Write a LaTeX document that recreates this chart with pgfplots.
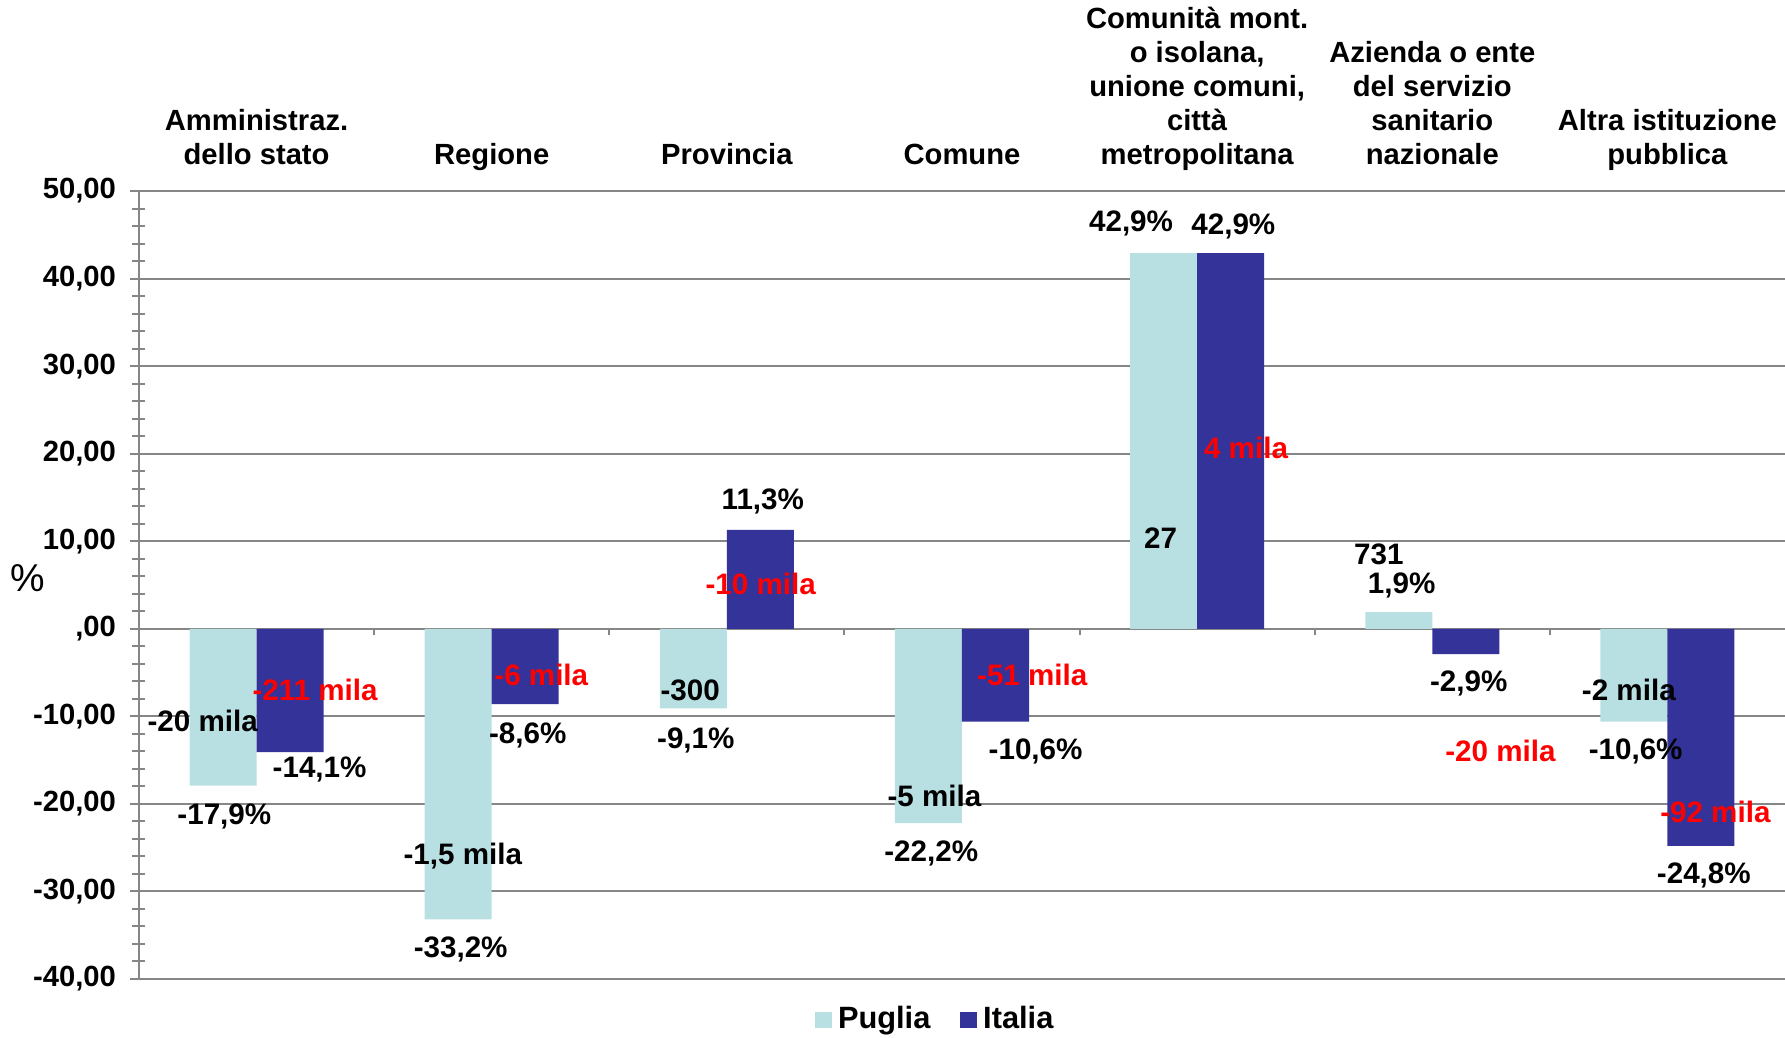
\documentclass[border=0pt]{standalone}
\usepackage{pgfplots}
\pgfplotsset{compat=1.18}
\usepackage{fontspec}
\setmainfont{Liberation Sans}
\definecolor{puglia}{HTML}{B8E0E3}
\definecolor{italia}{HTML}{333399}
\definecolor{gridgray}{HTML}{868686}
\newcommand{\dl}{\fontsize{7.4}{8.5}\selectfont\bfseries}
\newcommand{\cat}[1]{\begin{tabular}[b]{@{}c@{}}#1\end{tabular}}
\begin{document}
\begin{tikzpicture}
\begin{axis}[
  at={(0,0)}, anchor=south west,
  scale only axis, width=411.5pt, height=197pt,
  xmin=-0.5, xmax=6.5, ymin=-40, ymax=50,
  axis x line*=top, axis y line*=left,
  axis line style={gridgray, line width=0.5pt},
  xtick={0,...,6},
  x tick style={draw=none},
  xticklabels={
    {\cat{Amministraz.\\dello stato}},
    {\cat{Regione}},
    {\cat{Provincia}},
    {\cat{Comune}},
    {\cat{Comunità mont.\\o isolana,\\unione comuni,\\città\\metropolitana}},
    {\cat{Azienda o ente\\del servizio\\sanitario\\nazionale}},
    {\cat{Altra istituzione\\pubblica}}},
  xticklabel style={anchor=base, yshift=2.2pt, font=\fontsize{7.3}{8.45}\selectfont\bfseries},
  ytick={-40,-30,...,50},
  yticklabels={{-40,00},{-30,00},{-20,00},{-10,00},{,00},{10,00},{20,00},{30,00},{40,00},{50,00}},
  yticklabel style={font=\fontsize{7.3}{8.5}\selectfont\bfseries, xshift=0pt},
  minor y tick num=4,
  ytick align=center,
  major tick length=4.5pt, minor tick length=3.25pt,
  y tick style={gridgray, line width=0.5pt},
  ymajorgrids, grid style={gridgray, line width=0.5pt},
  ybar, bar width=0.285,
  legend style={at={(0.485,-0.052)}, anchor=center, draw=none, fill=none,
    legend columns=2, font=\fontsize{7.7}{9}\selectfont\bfseries,
    /tikz/every even column/.append style={column sep=6pt},
    /tikz/every node/.append style={inner xsep=1.5pt}},
  legend image code/.code={\fill[#1] (0pt,-2.1pt) rectangle (4.2pt,2.1pt);},
  clip=false,
]
\addplot[fill=puglia, draw=none, bar shift=-0.1425] coordinates {
  (0,-17.9) (1,-33.2) (2,-9.1) (3,-22.2) (4,42.9) (5,1.9) (6,-10.6)};
\addlegendentry{Puglia}
\addplot[fill=italia, draw=none, bar shift=0.1425] coordinates {
  (0,-14.1) (1,-8.6) (2,11.3) (3,-10.6) (4,42.9) (5,-2.9) (6,-24.8)};
\addlegendentry{Italia}
% category separators on zero line
\pgfplotsinvokeforeach{0.5,1.5,2.5,3.5,4.5,5.5}{
  \draw[gridgray, line width=0.5pt] (axis cs:#1,0) -- ([yshift=-1.5pt]axis cs:#1,0);
}
% Puglia absolute labels
\node[font=\dl] at (axis cs:-0.229,-10.5) {-20 mila};
\node[font=\dl] at (axis cs:0.877,-26.0) {-1,5 mila};
\node[font=\dl] at (axis cs:1.844,-7.0) {-300};
\node[font=\dl] at (axis cs:2.883,-19.1) {-5 mila};
\node[font=\dl] at (axis cs:3.845,10.3) {27};
\node[font=\dl] at (axis cs:4.773,8.5) {731};
\node[font=\dl] at (axis cs:5.836,-7.0) {-2 mila};
% Italia absolute labels
\node[font=\dl, text=red] at (axis cs:0.249,-7.0) {-211 mila};
\node[font=\dl, text=red] at (axis cs:1.211,-5.3) {-6 mila};
\node[font=\dl, text=red] at (axis cs:2.144,5.1) {-10 mila};
\node[font=\dl, text=red] at (axis cs:3.299,-5.3) {-51 mila};
\node[font=\dl, text=red] at (axis cs:4.208,20.6) {4 mila};
\node[font=\dl, text=red] at (axis cs:5.290,-14.0) {-20 mila};
\node[font=\dl, text=red] at (axis cs:6.204,-20.9) {-92 mila};
% percentage labels
\node[font=\dl] at (axis cs:-0.137,-21.4) {-17,9\%};
\node[font=\dl] at (axis cs:0.268,-16.1) {-14,1\%};
\node[font=\dl] at (axis cs:0.868,-36.6) {-33,2\%};
\node[font=\dl] at (axis cs:1.153,-12.2) {-8,6\%};
\node[font=\dl] at (axis cs:1.868,-12.7) {-9,1\%};
\node[font=\dl] at (axis cs:2.153,14.5) {11,3\%};
\node[font=\dl] at (axis cs:2.869,-25.7) {-22,2\%};
\node[font=\dl] at (axis cs:3.313,-14.0) {-10,6\%};
\node[font=\dl] at (axis cs:3.719,46.3) {42,9\%};
\node[font=\dl] at (axis cs:4.154,45.9) {42,9\%};
\node[font=\dl] at (axis cs:4.870,4.9) {1,9\%};
\node[font=\dl] at (axis cs:5.155,-6.3) {-2,9\%};
\node[font=\dl] at (axis cs:5.865,-14.0) {-10,6\%};
\node[font=\dl] at (axis cs:6.155,-28.2) {-24,8\%};
% y axis unit
\node[font=\fontsize{9.7}{11}\selectfont] at ([xshift=-27.75pt]axis cs:-0.5,5.77) {\%};
\end{axis}
\pgfresetboundingbox
\path (-34.75pt,-14.5pt) rectangle (411.5pt,244.75pt);
\end{tikzpicture}
\end{document}
